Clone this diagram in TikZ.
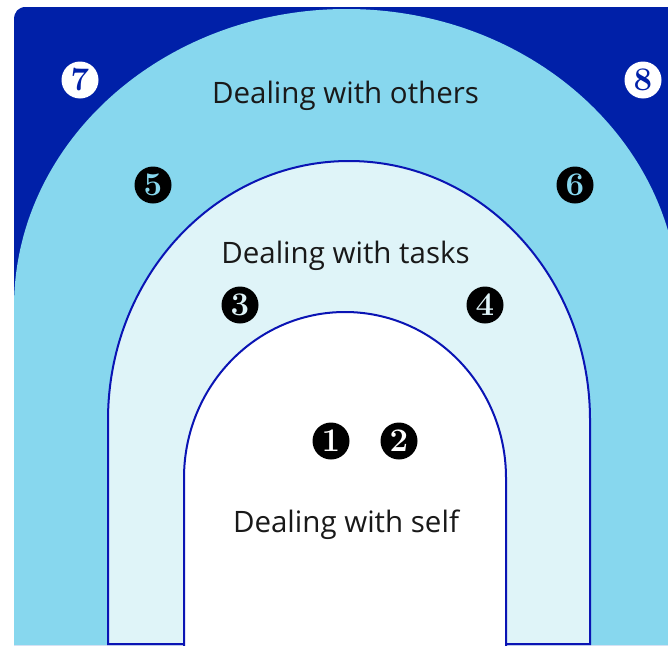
\documentclass[tikz,border=0pt]{standalone}
\usepackage{fontspec}
\setsansfont{Open Sans}

\definecolor{navy}{HTML}{0020A8}
\definecolor{sky}{HTML}{87D7EE}
\definecolor{ice}{HTML}{DFF4F8}
\definecolor{rim}{HTML}{0A14B4}

\begin{document}
\begin{tikzpicture}[x=1pt, y=-1pt,% pixel-like grid, y grows downwards
 zone/.style = {anchor=base, text=black!90,% labels of the three zones
                font=\sffamily\fontsize{29.5}{32}\selectfont},
  num/.style = {circle, fill=black, inner sep=0pt, minimum size=37pt,% numbered discs
                font=\rmfamily\bfseries\fontsize{33}{33}\selectfont},
 band/.style = {draw=rim, line width=2pt},
                    ]
\useasboundingbox (0,0) rectangle (668,645);
\clip (0,0) rectangle (668,645);
% outer field
\fill[navy] (14,645) -- (14,20) .. controls (14,12) and (18,7) .. (26,7)
            -- (668,7) -- (668,645) -- cycle;
% others
\fill[sky] (14,645) -- (14,307)
    arc[start angle=180, end angle=360, x radius=332.5, y radius=298]
    -- (679,645) -- cycle;
% tasks
\filldraw[band, fill=ice] (108,644) -- (108,420)
    arc[start angle=180, end angle=360, x radius=241, y radius=259]
    -- (590,644) -- cycle;
% self
\fill[white] (184,647) -- (184,478)
    arc[start angle=180, end angle=360, x radius=161, y radius=166]
    -- (506,647) -- cycle;
\draw[band] (184,647) -- (184,478)
    arc[start angle=180, end angle=360, x radius=161, y radius=166]
    -- (506,647);

\node[zone] (others) at (345.5,103) {Dealing with others};
\node[zone] (tasks)  at (345.5,263) {Dealing with tasks};
\node[zone] (self)   at (346,532)   {Dealing with self};

\foreach \n/\x/\y/\c in {1/331/441/white, 2/399/441/white,
                         3/240/305/ice, 4/485/305/ice,
                         5/153/185/sky, 6/575/185/sky}% <-- disc, place, digit colour
    \node[num, text=\c] (n\n) at (\x,\y) {\n};
\node[num, fill=white, text=navy] (n7) at (80,80)  {7};
\node[num, fill=white, text=navy] (n8) at (643,80) {8};
\end{tikzpicture}
\end{document}
